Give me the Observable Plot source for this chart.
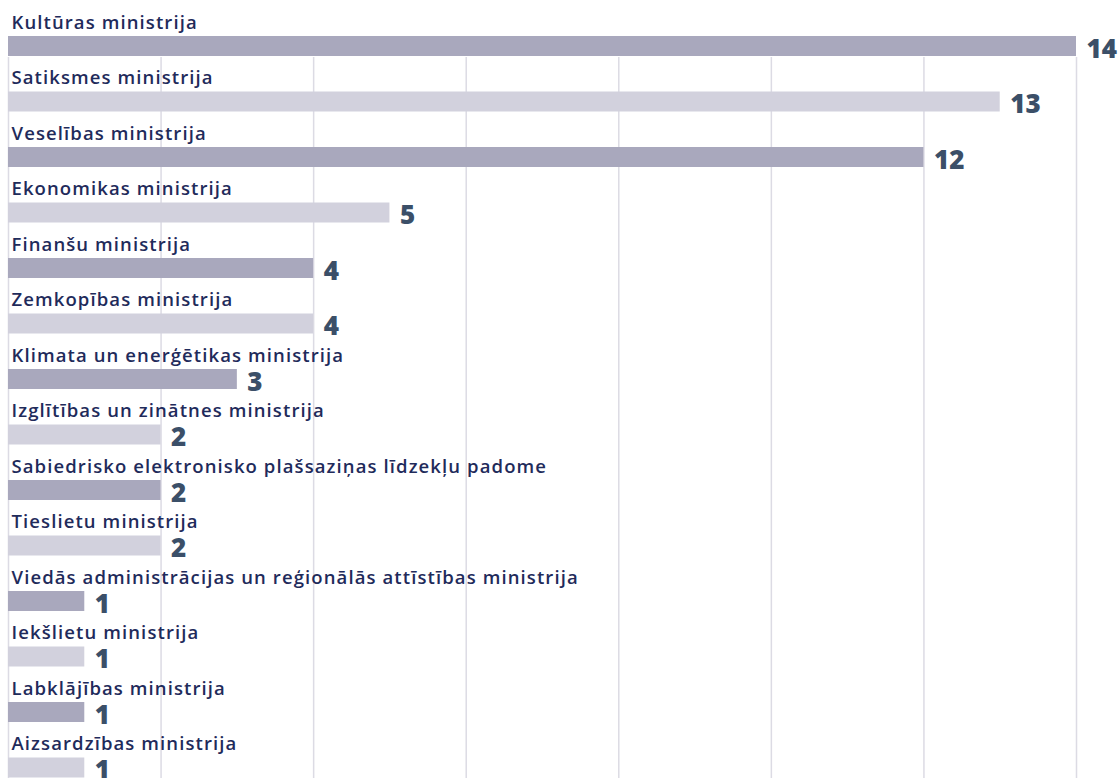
<!DOCTYPE html>
<html>
<head>
<meta charset="utf-8">
<script src="https://cdn.jsdelivr.net/npm/d3@7"></script>
<script src="https://cdn.jsdelivr.net/npm/@observablehq/plot@0.6"></script>
<style>
  html, body { margin: 0; padding: 0; background: #fff; overflow: hidden; }
  #chart svg { display: block; }
</style>
</head>
<body>
<div id="chart"></div>
<script>
const categories = [
  "Kultūras ministrija",
  "Satiksmes ministrija",
  "Veselības ministrija",
  "Ekonomikas ministrija",
  "Finanšu ministrija",
  "Zemkopības ministrija",
  "Klimata un enerģētikas ministrija",
  "Izglītības un zinātnes ministrija",
  "Sabiedrisko elektronisko plašsaziņas līdzekļu padome",
  "Tieslietu ministrija",
  "Viedās administrācijas un reģionālās attīstības ministrija",
  "Iekšlietu ministrija",
  "Labklājības ministrija",
  "Aizsardzības ministrija"
];
const values = [14, 13, 12, 5, 4, 4, 3, 2, 2, 2, 1, 1, 1, 1];
const gridTicks = [0, 2, 4, 6, 8, 10, 12, 14];

const data = categories.map((c, i) => ({name: c, value: values[i], shade: i % 2 === 0 ? "dark" : "light"}));

const chart = Plot.plot({
  width: 1119,
  height: 785,
  marginLeft: 8,
  marginRight: 43,
  marginTop: 8,
  marginBottom: 0,
  x: {domain: [0, 14], axis: null},
  y: {domain: categories, axis: null, padding: 0, round: false},
  color: {domain: ["dark", "light"], range: ["#a9a8bd", "#d2d1dd"]},
  style: {background: "#fff"},
  marks: [
    Plot.ruleX(gridTicks, {stroke: "#dcdbe4", strokeWidth: 1.5, insetTop: 49}),
    Plot.barX(data, {x: "value", y: "name", fill: "shade", insetTop: 28, insetBottom: 7.5}),
    Plot.text(data, {
      x: 0, y: "name", text: "name", textAnchor: "start", lineAnchor: "bottom",
      dx: 3, dy: -7.5, fill: "#1f2b5b", fontSize: 18.5, fontWeight: 600,
      fontFamily: "'Open Sans', 'Noto Sans', sans-serif"
    }),
    Plot.text(data, {
      x: "value", y: "name", text: d => String(d.value), textAnchor: "start", lineAnchor: "bottom",
      dx: 10, dy: 21.5, fill: "#3b4f68", fontSize: 26, fontWeight: 800,
      fontFamily: "'Open Sans', Lato, sans-serif"
    })
  ]
});
const textGroups = chart.querySelectorAll('g[aria-label="text"]');
if (textGroups.length) textGroups[0].setAttribute("letter-spacing", "1.1px");
document.getElementById("chart").appendChild(chart);
</script>
</body>
</html>
